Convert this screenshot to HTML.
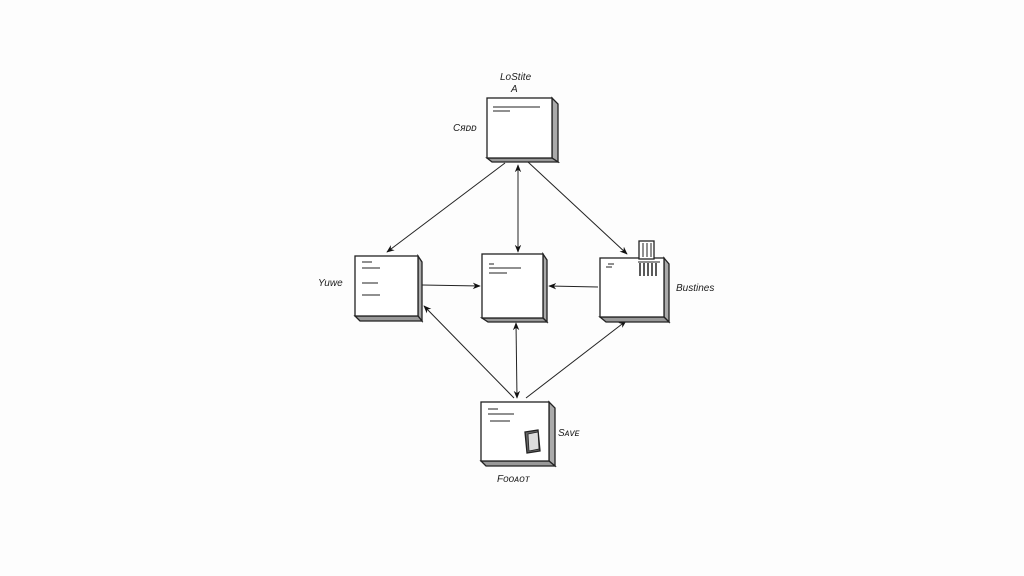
<!DOCTYPE html>
<html><head><style>
body{margin:0;background:#fdfdfd;}
svg{display:block}
text{font-family:"Liberation Sans",sans-serif;font-style:italic;font-size:10px;fill:#222}
</style></head><body>
<svg width="1024" height="576" viewBox="0 0 1024 576">
<defs>
<marker id="a" viewBox="0 0 10 10" refX="9" refY="5" markerWidth="8" markerHeight="8" orient="auto-start-reverse"><path d="M0,1 L10,5 L0,9 L3,5z" fill="#111"/></marker>
</defs>
<g stroke="#222" fill="none" stroke-width="1">
<line x1="505" y1="163" x2="387" y2="252" marker-end="url(#a)"/>
<line x1="518" y1="165" x2="518" y2="252" marker-start="url(#a)" marker-end="url(#a)"/>
<line x1="528" y1="162" x2="627" y2="254" marker-end="url(#a)"/>
<line x1="422" y1="285" x2="480" y2="286" marker-end="url(#a)"/>
<line x1="549" y1="286" x2="598" y2="287" marker-start="url(#a)"/>
<line x1="517" y1="398" x2="516" y2="323" marker-start="url(#a)" marker-end="url(#a)"/>
<line x1="514" y1="398" x2="424" y2="306" marker-end="url(#a)"/>
<line x1="526" y1="398" x2="626" y2="321" marker-end="url(#a)"/>
</g>
<g stroke="#222" stroke-width="1.3">
<!-- boxes: side, bottom, front -->
<g>
<polygon points="552,98 558,104 558,162 552,158" fill="#aaa"/>
<polygon points="487,158 552,158 558,162 492,162" fill="#999"/>
<rect x="487" y="98" width="65" height="60" fill="#fff"/>
<line x1="493" y1="107" x2="540" y2="107" stroke-width="1"/><line x1="493" y1="111" x2="510" y2="111" stroke-width="1"/>
</g>
<g>
<polygon points="418,256 422,262 422,321 418,316" fill="#aaa"/>
<polygon points="355,316 418,316 422,321 360,321" fill="#999"/>
<rect x="355" y="256" width="63" height="60" fill="#fff"/>
<line x1="362" y1="262" x2="372" y2="262" stroke-width="1"/><line x1="362" y1="268" x2="380" y2="268" stroke-width="1"/><line x1="362" y1="283" x2="378" y2="283" stroke-width="1"/><line x1="362" y1="295" x2="380" y2="295" stroke-width="1"/>
</g>
<g>
<polygon points="543,254 547,260 547,322 543,318" fill="#aaa"/>
<polygon points="482,318 543,318 547,322 488,322" fill="#999"/>
<rect x="482" y="254" width="61" height="64" fill="#fff"/>
<line x1="489" y1="264" x2="494" y2="264" stroke-width="1"/><line x1="489" y1="268" x2="521" y2="268" stroke-width="1"/><line x1="489" y1="273" x2="507" y2="273" stroke-width="1"/>
</g>
<g>
<polygon points="664,258 669,264 669,322 664,317" fill="#aaa"/>
<polygon points="600,317 664,317 669,322 606,322" fill="#999"/>
<rect x="600" y="258" width="64" height="59" fill="#fff"/>
<line x1="608" y1="264" x2="614" y2="264" stroke-width="1"/><line x1="606" y1="267" x2="612" y2="267" stroke-width="1"/>
<rect x="639" y="241" width="15" height="18" fill="#fff"/>
<line x1="643" y1="243" x2="643" y2="257" stroke-width="1"/><line x1="647" y1="243" x2="647" y2="257" stroke-width="1"/><line x1="651" y1="243" x2="651" y2="257" stroke-width="1"/>
<line x1="638" y1="262" x2="660" y2="262" stroke-width="1"/>
<line x1="640" y1="263" x2="640" y2="276" stroke-width="1.5"/><line x1="644" y1="263" x2="644" y2="276" stroke-width="1.5"/><line x1="648" y1="263" x2="648" y2="276" stroke-width="1.5"/><line x1="652" y1="263" x2="652" y2="276" stroke-width="1.5"/><line x1="656" y1="263" x2="656" y2="276" stroke-width="1.5"/>
</g>
<g>
<polygon points="549,402 555,408 555,466 549,461" fill="#aaa"/>
<polygon points="481,461 549,461 555,466 486,466" fill="#999"/>
<rect x="481" y="402" width="68" height="59" fill="#fff"/>
<line x1="488" y1="409" x2="498" y2="409" stroke-width="1"/><line x1="488" y1="414" x2="514" y2="414" stroke-width="1"/><line x1="490" y1="421" x2="510" y2="421" stroke-width="1"/>
<polygon points="525,432 538,430 540,451 527,453" fill="#666"/>
<polygon points="528,434 538,432 539,449 529,451" fill="#ddd" stroke-width="0.8"/>
</g>
</g>
<text x="500" y="80">LoStite</text>
<text x="511" y="92">A</text>
<text x="453" y="131">Cᴙᴅᴅ</text>
<text x="318" y="286">Yuwe</text>
<text x="676" y="291">Bustines</text>
<text x="558" y="436">Sᴀᴠᴇ</text>
<text x="497" y="482">Fᴏᴏᴀᴏᴛ</text>
</svg>
</body></html>
